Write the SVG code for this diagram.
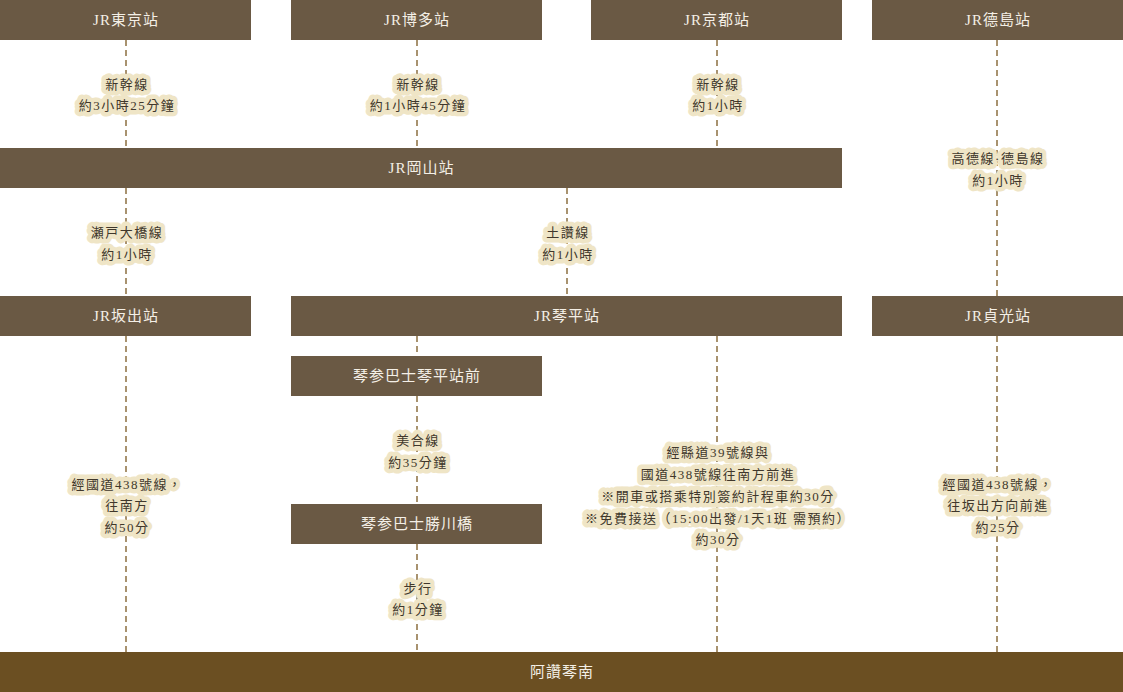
<svg xmlns="http://www.w3.org/2000/svg" width="1123" height="692" viewBox="0 0 1123 692">
<style>
.bar{fill:#6a5944}
.end{fill:#6b4f22}
.bt{font-family:"Liberation Serif","Noto Sans CJK TC",serif;font-size:15px;letter-spacing:1px;fill:#f4efe6;text-anchor:middle;dominant-baseline:central}
.dash{stroke:#a8926f;stroke-width:2;stroke-dasharray:6 4;fill:none}
.lb{font-family:"Liberation Serif","Noto Sans CJK TC",serif;font-size:13px;letter-spacing:1.5px;fill:#40372b;text-anchor:middle;dominant-baseline:central;stroke:#efe5c6;stroke-width:9;stroke-linejoin:round;paint-order:stroke}
</style>
<rect width="1123" height="692" fill="#ffffff"/>
<g id="connectors">
<line class="dash" x1="126" y1="40" x2="126" y2="148"/>
<line class="dash" x1="417" y1="40" x2="417" y2="148"/>
<line class="dash" x1="717" y1="40" x2="717" y2="148"/>
<line class="dash" x1="997" y1="40" x2="997" y2="296"/>
<line class="dash" x1="126" y1="188" x2="126" y2="296"/>
<line class="dash" x1="567" y1="188" x2="567" y2="296"/>
<line class="dash" x1="126" y1="336" x2="126" y2="652"/>
<line class="dash" x1="417" y1="336" x2="417" y2="356"/>
<line class="dash" x1="417" y1="396" x2="417" y2="504"/>
<line class="dash" x1="417" y1="544" x2="417" y2="652"/>
<line class="dash" x1="717" y1="336" x2="717" y2="652"/>
<line class="dash" x1="997" y1="336" x2="997" y2="652"/>
</g>
<g id="labels">
<text class="lb" x="127" y="84">新幹線</text>
<text class="lb" x="127" y="105">約3小時25分鐘</text>
<text class="lb" x="418" y="84">新幹線</text>
<text class="lb" x="418" y="105">約1小時45分鐘</text>
<text class="lb" x="718" y="84">新幹線</text>
<text class="lb" x="718" y="105">約1小時</text>
<text class="lb" x="998" y="158">高德線·德島線</text>
<text class="lb" x="998" y="180">約1小時</text>
<text class="lb" x="127" y="232">瀬戸大橋線</text>
<text class="lb" x="127" y="254">約1小時</text>
<text class="lb" x="568" y="232">土讚線</text>
<text class="lb" x="568" y="254">約1小時</text>
<text class="lb" x="127" y="484">經國道438號線，</text>
<text class="lb" x="127" y="505">往南方</text>
<text class="lb" x="127" y="527">約50分</text>
<text class="lb" x="418" y="440">美合線</text>
<text class="lb" x="418" y="462">約35分鐘</text>
<text class="lb" x="418" y="588">步行</text>
<text class="lb" x="418" y="609">約1分鐘</text>
<text class="lb" x="718" y="452">經縣道39號線與</text>
<text class="lb" x="718" y="474">國道438號線往南方前進</text>
<text class="lb" x="718" y="496">※開車或搭乘特別簽約計程車約30分</text>
<text class="lb" x="718" y="518">※免費接送（15:00出發/1天1班 需預約）</text>
<text class="lb" x="718" y="539">約30分</text>
<text class="lb" x="998" y="484">經國道438號線，</text>
<text class="lb" x="998" y="505">往坂出方向前進</text>
<text class="lb" x="998" y="527">約25分</text>
</g>
<g id="tokyo"><rect class="bar" x="0" y="0" width="251" height="40"/><text class="bt" x="126" y="20">JR東京站</text></g>
<g id="hakata"><rect class="bar" x="291" y="0" width="251" height="40"/><text class="bt" x="417" y="20">JR博多站</text></g>
<g id="kyoto"><rect class="bar" x="591" y="0" width="251" height="40"/><text class="bt" x="717" y="20">JR京都站</text></g>
<g id="tokushima"><rect class="bar" x="872" y="0" width="251" height="40"/><text class="bt" x="998" y="20">JR德島站</text></g>
<g id="okayama"><rect class="bar" x="0" y="148" width="842" height="40"/><text class="bt" x="421.5" y="168">JR岡山站</text></g>
<g id="sakaide"><rect class="bar" x="0" y="296" width="251" height="40"/><text class="bt" x="126" y="316">JR坂出站</text></g>
<g id="kotohira"><rect class="bar" x="291" y="296" width="551" height="40"/><text class="bt" x="567" y="316">JR琴平站</text></g>
<g id="sadamitsu"><rect class="bar" x="872" y="296" width="251" height="40"/><text class="bt" x="998" y="316">JR貞光站</text></g>
<g id="bus-kotohira"><rect class="bar" x="291" y="356" width="251" height="40"/><text class="bt" x="417" y="376">琴参巴士琴平站前</text></g>
<g id="bus-katsukawa"><rect class="bar" x="291" y="504" width="251" height="40"/><text class="bt" x="417" y="524">琴参巴士勝川橋</text></g>
<g id="asan-kotonami"><rect class="end" x="0" y="652" width="1123" height="40"/><text class="bt" x="562" y="672">阿讚琴南</text></g>
</svg>
